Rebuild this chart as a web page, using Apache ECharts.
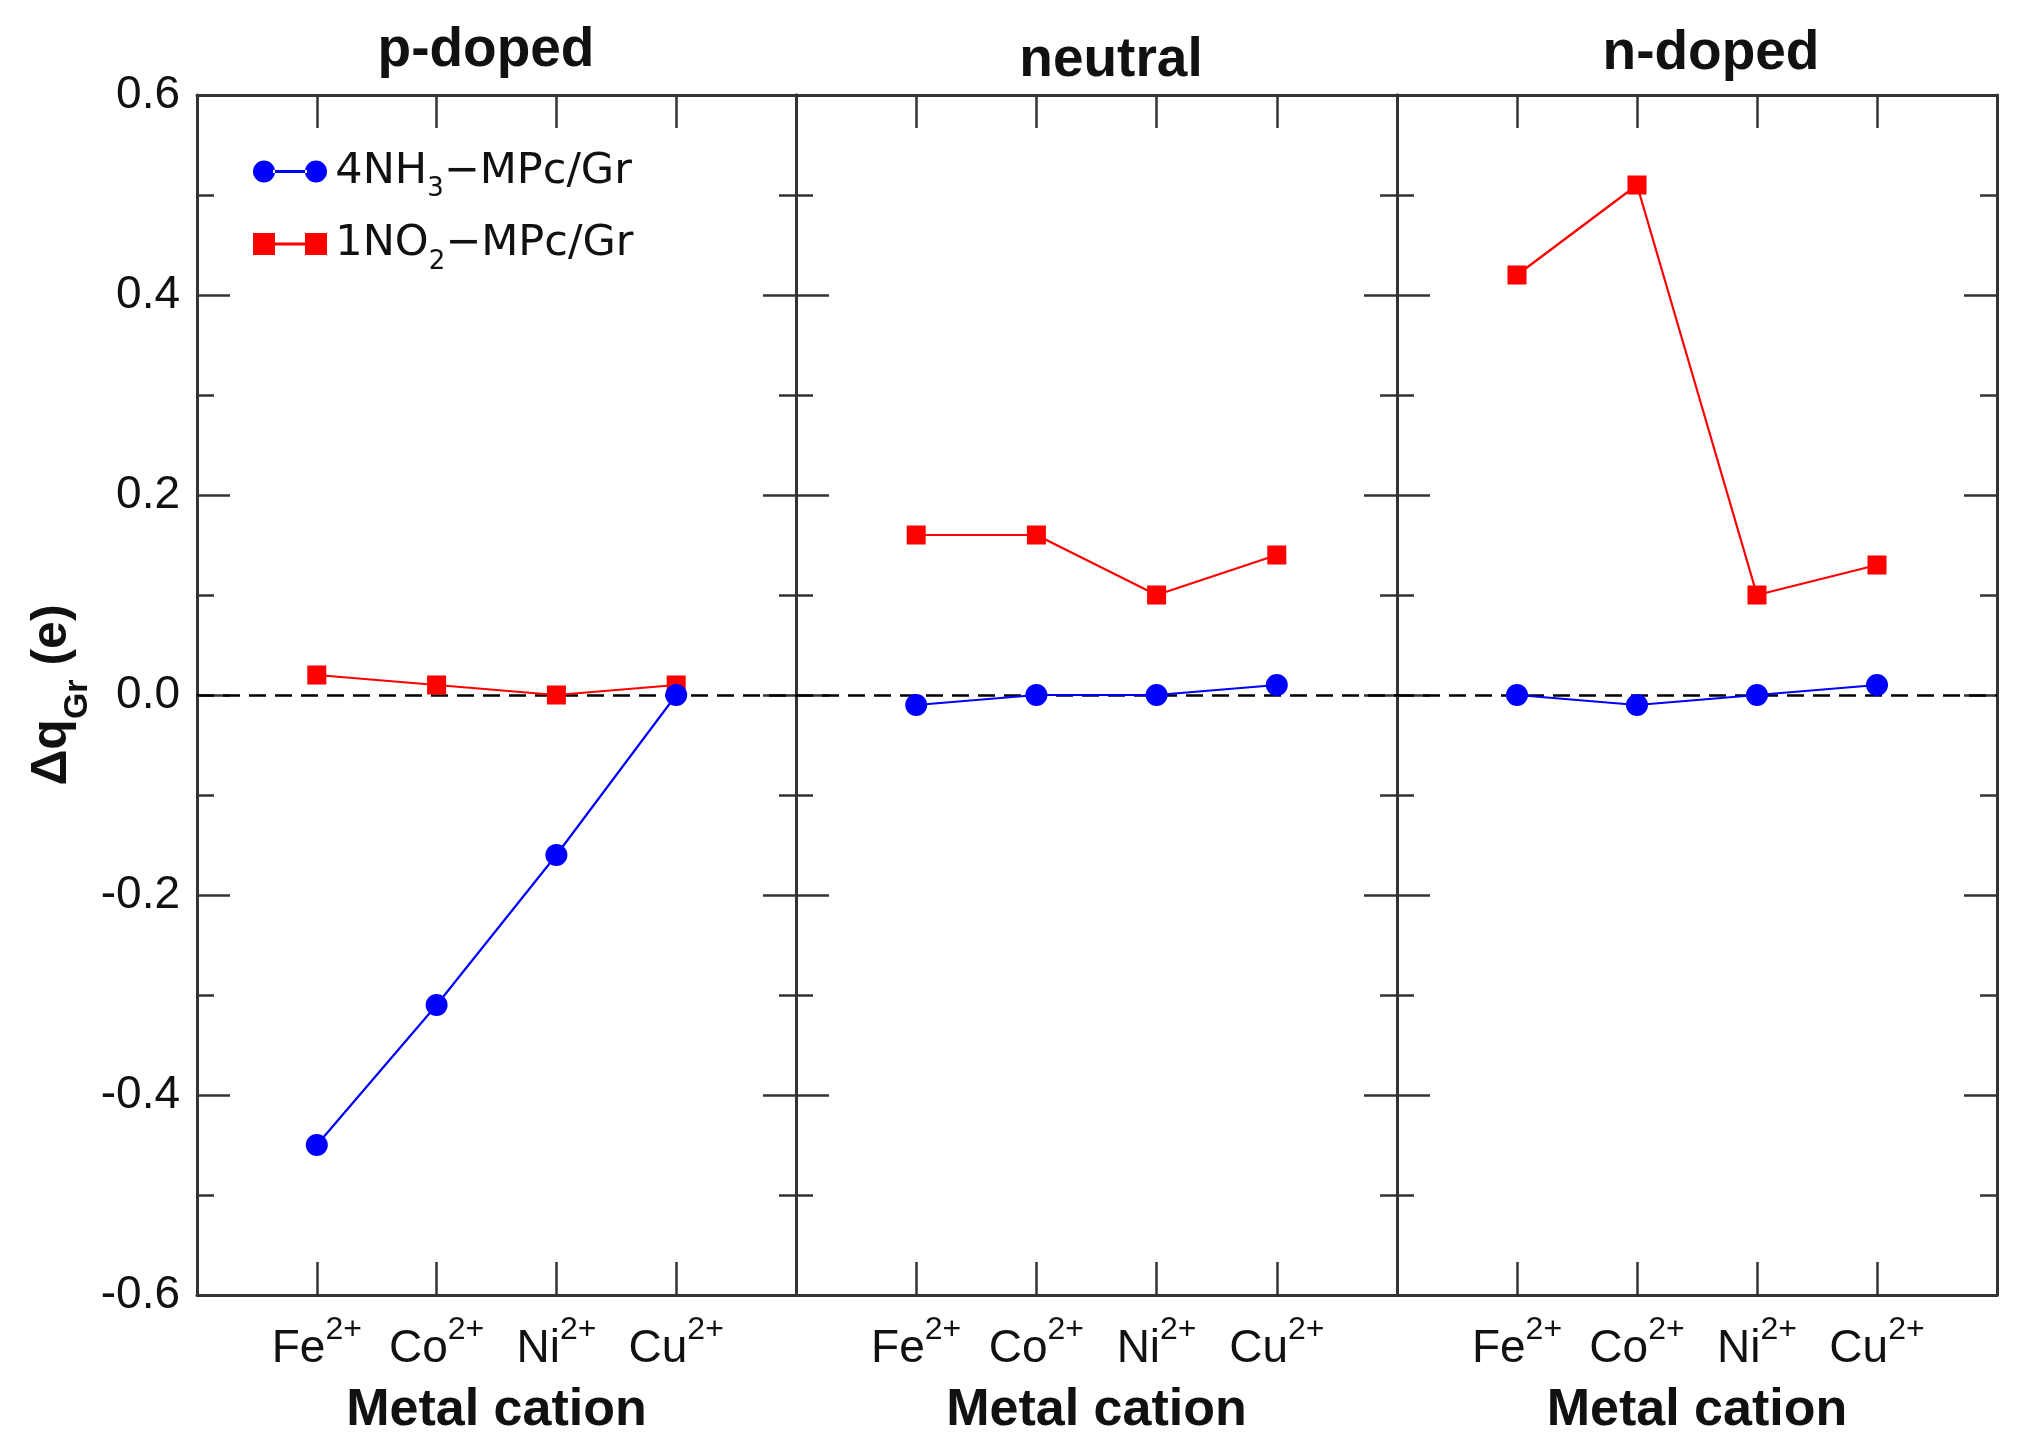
<!DOCTYPE html>
<html>
<head>
<meta charset="utf-8">
<script src="https://cdn.jsdelivr.net/npm/echarts@6/dist/echarts.min.js"></script>
<style>
  html, body { margin: 0; padding: 0; background: #fff; }
  #chart { width: 2027px; height: 1448px; }
</style>
</head>
<body>
<div id="chart"></div>
<script>
// data
var cations = ['Fe', 'Co', 'Ni', 'Cu'];
var panelNames = ['p-doped', 'neutral', 'n-doped'];

var nh3PDoped = [-0.45, -0.31, -0.16, 0.00];
var no2PDoped = [0.02, 0.01, 0.00, 0.01];
var nh3Neutral = [-0.01, 0.00, 0.00, 0.01];
var no2Neutral = [0.16, 0.16, 0.10, 0.14];
var nh3NDoped = [0.00, -0.01, 0.00, 0.01];
var no2NDoped = [0.42, 0.51, 0.10, 0.13];

var nh3Name = '4NH3-MPc/Gr';
var no2Name = '1NO2-MPc/Gr';

var nh3All = [nh3PDoped, nh3Neutral, nh3NDoped];
var no2All = [no2PDoped, no2Neutral, no2NDoped];

var font = 'Liberation Sans, Arial, sans-serif';
var axisColor = '#333';
var textColor = '#111';

// layout (px)
var gridLefts = [197, 796, 1397];
var gridWidths = [599, 601, 600];
var gridTop = 95;
var gridHeight = 1200;
var titleX = [481, 1106, 1706];
var titleY = [18, 28, 21];

var toPairs = function (arr) {
    return arr.map(function (v, i) { return [i + 1, v]; });
};

var grids = [], xAxes = [], yAxes = [], series = [], titles = [];

for (var p = 0; p < 3; p++) {
    grids.push({ left: gridLefts[p], width: gridWidths[p], top: gridTop, height: gridHeight });

    titles.push({
        text: panelNames[p],
        left: titleX[p],
        top: titleY[p],
        textAlign: 'center',
        textStyle: { fontFamily: font, fontWeight: 'bold', fontSize: 55, color: textColor }
    });

    // bottom x axis
    xAxes.push({
        type: 'value', gridIndex: p, position: 'bottom', min: 0, max: 5, interval: 1,
        name: 'Metal cation', nameLocation: 'middle', nameGap: 90,
        nameTextStyle: { fontFamily: font, fontWeight: 'bold', fontSize: 52, color: textColor },
        axisLine: { show: true, onZero: false, lineStyle: { color: axisColor, width: 3 } },
        axisTick: { show: true, inside: true, length: 33, lineStyle: { color: axisColor, width: 2.5 } },
        splitLine: { show: false },
        axisLabel: {
            margin: 19,
            formatter: function (v) {
                if (v >= 1 && v <= 4) return '{b|' + cations[v - 1] + '}{sup|2+}';
                return '';
            },
            rich: {
                b: { fontFamily: font, fontSize: 46, color: textColor, lineHeight: 71 },
                sup: { fontFamily: font, fontSize: 32, color: textColor, lineHeight: 24, verticalAlign: 'top' }
            }
        }
    });
    // top x axis (ticks only)
    xAxes.push({
        type: 'value', gridIndex: p, position: 'top', min: 0, max: 5, interval: 1,
        axisLine: { show: true, onZero: false, lineStyle: { color: axisColor, width: 3 } },
        axisTick: { show: true, inside: true, length: 33, lineStyle: { color: axisColor, width: 2.5 } },
        splitLine: { show: false },
        axisLabel: { show: false }
    });

    // left y axis
    yAxes.push({
        type: 'value', gridIndex: p, position: 'left', min: -0.6, max: 0.6, interval: 0.2,
        name: p === 0 ? '{m|Δq}{sub|Gr}{m| (e)}' : '',
        nameLocation: 'middle', nameGap: 120, nameRotate: 90,
        nameTextStyle: {
            rich: {
                m: { fontFamily: font, fontWeight: 'bold', fontSize: 50, color: textColor, lineHeight: 50, verticalAlign: 'top' },
                sub: { fontFamily: font, fontWeight: 'bold', fontSize: 34, color: textColor, lineHeight: 34, verticalAlign: 'top', padding: [34, 0, 0, 0] }
            }
        },
        axisLine: { show: true, onZero: false, lineStyle: { color: axisColor, width: 3 } },
        axisTick: { show: true, inside: true, length: 33, lineStyle: { color: axisColor, width: 2.5 } },
        minorTick: { show: true, splitNumber: 2, length: 17, lineStyle: { color: axisColor, width: 2.5 } },
        splitLine: { show: false },
        axisLabel: {
            show: p === 0, margin: 17, fontFamily: font, fontSize: 46, color: textColor,
            formatter: function (v) { return v.toFixed(1); }
        }
    });
    // right y axis (ticks only)
    yAxes.push({
        type: 'value', gridIndex: p, position: 'right', min: -0.6, max: 0.6, interval: 0.2,
        axisLine: { show: true, onZero: false, lineStyle: { color: axisColor, width: 3 } },
        axisTick: { show: true, inside: true, length: 33, lineStyle: { color: axisColor, width: 2.5 } },
        minorTick: { show: true, splitNumber: 2, length: 17, lineStyle: { color: axisColor, width: 2.5 } },
        splitLine: { show: false },
        axisLabel: { show: false }
    });

    series.push({
        name: no2Name, type: 'line', xAxisIndex: p * 2, yAxisIndex: p * 2,
        data: toPairs(no2All[p]),
        symbol: 'rect', symbolSize: 19,
        itemStyle: { color: '#ff0000' },
        lineStyle: { color: '#ff0000', width: 2.2 },
        z: 3,
        markLine: {
            silent: true, symbol: 'none', label: { show: false },
            lineStyle: { color: '#000', width: 2.5, type: [17, 9] },
            data: [{ yAxis: 0 }],
            z: 1
        }
    });
    series.push({
        name: nh3Name, type: 'line', xAxisIndex: p * 2, yAxisIndex: p * 2,
        data: toPairs(nh3All[p]),
        symbol: 'circle', symbolSize: 22,
        itemStyle: { color: '#0000ff' },
        lineStyle: { color: '#0000ff', width: 2.2 },
        z: 4
    });
}

var legendFont = 'DejaVu Sans, Liberation Sans, sans-serif';
var legendRich = {
    sp: { fontSize: 1, lineHeight: 62 },
    m: { fontFamily: legendFont, fontSize: 43, color: textColor, lineHeight: 44, verticalAlign: 'middle' },
    sub: { fontFamily: legendFont, fontSize: 26, color: textColor, lineHeight: 26, verticalAlign: 'bottom' }
};

var myChart = echarts.init(document.getElementById('chart'), null, { renderer: 'canvas' });
var option = {
    backgroundColor: '#fff',
    animation: false,
    title: titles,
    legend: {
        orient: 'vertical', left: 248, top: 145, itemGap: 20,
        itemWidth: 74, itemHeight: 22,
        data: [
            { name: nh3Name, icon: 'path://M0,11 A11,11 0 1,0 22,11 A11,11 0 1,0 0,11 Z M52,11 A11,11 0 1,0 74,11 A11,11 0 1,0 52,11 Z M20,9.5 L54,9.5 L54,12.5 L20,12.5 Z' },
            { name: no2Name, icon: 'path://M0,0 L22,0 L22,22 L0,22 Z M52,0 L74,0 L74,22 L52,22 Z M22,9.5 L52,9.5 L52,12.5 L22,12.5 Z' }
        ],
        formatter: function (name) {
            if (name === nh3Name) return '{sp| }{m|4NH}{sub|3}{m|\u2212MPc/Gr}';
            return '{sp| }{m|1NO}{sub|2}{m|\u2212MPc/Gr}';
        },
        textStyle: { rich: legendRich, padding: [0, 0, 0, 3] }
    },
    grid: grids,
    xAxis: xAxes,
    yAxis: yAxes,
    series: series
};
myChart.setOption(option);
</script>
</body>
</html>
